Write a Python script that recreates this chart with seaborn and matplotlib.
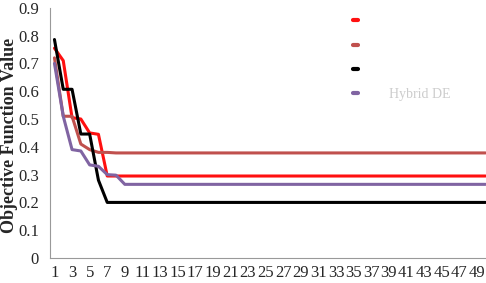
import numpy as np
import pandas as pd
import matplotlib
matplotlib.use("Agg")
import matplotlib.pyplot as plt
import seaborn as sns

iterations = list(range(1, 51))
series_names = ["DE", "PSO", "GA", "Hybrid DE"]
red_vals = [0.755, 0.71, 0.505, 0.50, 0.45, 0.445] + [0.295] * 44
salmon_vals = [0.72, 0.51, 0.51, 0.41, 0.39, 0.38, 0.38] + [0.378] * 43
black_vals = [0.786, 0.607, 0.607, 0.446, 0.446, 0.28] + [0.20] * 44
purple_vals = [0.70, 0.51, 0.39, 0.385, 0.335, 0.33, 0.30, 0.298] + [0.265] * 42
colors = ["#ff1010", "#c0504d", "#000000", "#8064a2"]

frames = []
for name, vals in zip(series_names, [red_vals, salmon_vals, black_vals, purple_vals]):
    frames.append(pd.DataFrame({"Iteration": iterations, "Value": vals, "Series": name}))
df = pd.concat(frames, ignore_index=True)

sns.set_style("white")
plt.rcParams["font.family"] = ["Liberation Serif", "DejaVu Serif"]

fig = plt.figure(figsize=(4.86, 2.83), dpi=100)
ax = fig.add_axes([0.103, 0.0883, 0.905, 0.884])
sns.lineplot(data=df, x="Iteration", y="Value", hue="Series", palette=colors,
             linewidth=2.2, ax=ax, legend=True)

ax.set_xlim(0.5, 50.5)
ax.set_ylim(0, 0.9)
ax.set_yticks(np.arange(0, 0.91, 0.1))
ax.set_yticklabels(["0"] + [f"{v:.1f}" for v in np.arange(0.1, 0.91, 0.1)], fontsize=12)
ax.set_xticks(iterations[::2])
ax.set_xticklabels([str(i) for i in iterations[::2]], fontsize=12)
ax.set_xticks(np.arange(0.5, 51, 1), minor=True)
ax.tick_params(axis="x", which="major", length=0, pad=5)
ax.tick_params(axis="x", which="minor", length=4, color="#999999", width=0.8, direction="out")
ax.tick_params(axis="y", length=5, color="#999999", width=0.8, direction="out", pad=3)
ax.set_xlabel("")
ax.set_ylabel("Objective Function Value", fontsize=13, fontweight="bold")
ax.yaxis.set_label_coords(-0.072, 0.49)
for s in ["top", "right"]:
    ax.spines[s].set_visible(False)
for s in ["left", "bottom"]:
    ax.spines[s].set_color("#999999")
    ax.spines[s].set_linewidth(0.8)

leg = ax.legend(loc="upper left", bbox_to_anchor=(0.66, 1.02), frameon=False,
                handlelength=0.4, handletextpad=2.2, labelspacing=0.8, fontsize=10)
for i, t in enumerate(leg.get_texts()):
    t.set_color("#ffffff" if i < 3 else "#cccccc")
for h in leg.get_lines():
    h.set_linewidth(3)

fig.savefig("out.png", dpi=100)
